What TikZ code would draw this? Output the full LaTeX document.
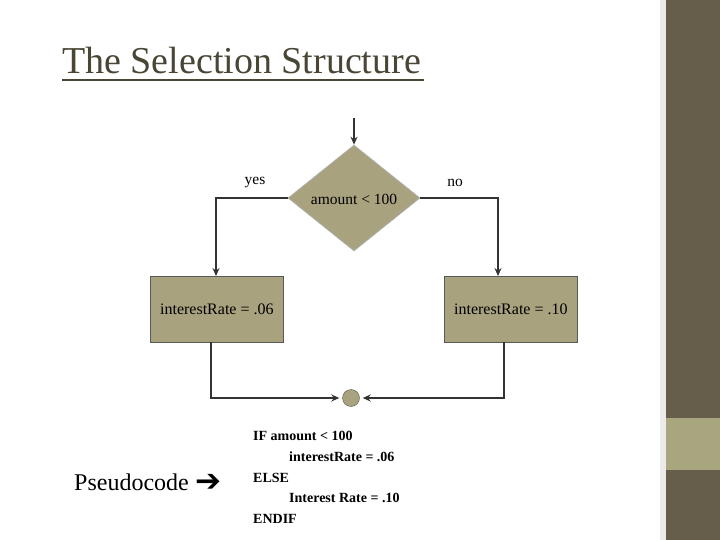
\documentclass[tikz,border=0pt]{standalone}
\usepackage{fontspec}
\setmainfont{Liberation Serif}
\newfontfamily\symfont{DejaVu Sans}
\usetikzlibrary{shapes.geometric,arrows.meta}
\definecolor{olive}{HTML}{A8A27E}
\definecolor{barDark}{HTML}{665E4A}
\definecolor{barLight}{HTML}{A8A67E}
\definecolor{lineC}{HTML}{333333}
\definecolor{titleC}{HTML}{4A4636}
\tikzset{
  flow/.style={draw=lineC, line width=2pt, -{Stealth[length=8pt,width=7pt]}},
  procbox/.style={draw=gray!70!black, line width=0.7pt, fill=olive, minimum width=133pt, minimum height=66pt, inner sep=0pt, font=\fontsize{16}{18}\selectfont},
  decbox/.style={diamond, draw=gray!60, line width=0.7pt, fill=olive, minimum width=132pt, minimum height=106pt, inner sep=0pt, aspect=1.25},
  lbl/.style={font=\fontsize{15.5}{18}\selectfont, inner sep=0pt},
  code/.style={font=\bfseries\fontsize{14}{16}\selectfont, anchor=base west, inner sep=0pt}
}
\begin{document}
\begin{tikzpicture}[x=1pt,y=-1pt]
\useasboundingbox (0,0) rectangle (720,540);
\fill[white] (0,0) rectangle (720,540);
\fill[black!8] (660,0) rectangle (666,540);
\fill[barDark] (666,0) rectangle (720,540);
\fill[barLight] (666,418) rectangle (720,470);
% title
\node[anchor=base west, inner sep=0pt, text=titleC, font=\fontsize{38}{44}\selectfont] (title) at (62,74) {The Selection Structure};
\draw[titleC, line width=1.2pt] (62,80) -- (424,80);
% flowchart
\coordinate (start) at (354,118);
\node[decbox] (dec) at (354,198) {};
\node[lbl] (cond) at (354,199) {amount < 100};
\draw[flow] (start) -- (dec.north);
\node[procbox, anchor=north west] (left) at (150,276) {interestRate = .06};
\node[procbox, anchor=north west] (right) at (444,276) {interestRate = .10};
\node[lbl] (yes) at (255,183) {yes};
\node[lbl] (no) at (455,183) {no};
\draw[flow] (dec.west) -| (left.north -| 216,0);
\draw[flow] (dec.east) -| (right.north -| 498,0);
\node[circle, draw=gray!70!black, fill=olive, minimum size=17pt, inner sep=0pt] (join) at (351,398) {};
\coordinate (lb) at (211,342);
\coordinate (rb) at (504,342);
\draw[flow] (lb) |- ([xshift=-3pt]join.west);
\draw[flow] (rb) |- ([xshift=3pt]join.east);
% pseudocode
\node[anchor=base west, inner sep=0pt, font=\fontsize{24}{26}\selectfont] (pseudo) at (74,490) {Pseudocode};
\node[anchor=base west, inner sep=0pt, font=\symfont\bfseries\fontsize{31}{32}\selectfont] (arr) at (195,491) {➔};
\node[code] (c1) at (253,440) {IF amount < 100};
\node[code] (c2) at (289,461) {interestRate = .06};
\node[code] (c3) at (253,482) {ELSE};
\node[code] (c4) at (289,502) {Interest Rate = .10};
\node[code] (c5) at (253,523) {ENDIF};
\end{tikzpicture}
\end{document}
